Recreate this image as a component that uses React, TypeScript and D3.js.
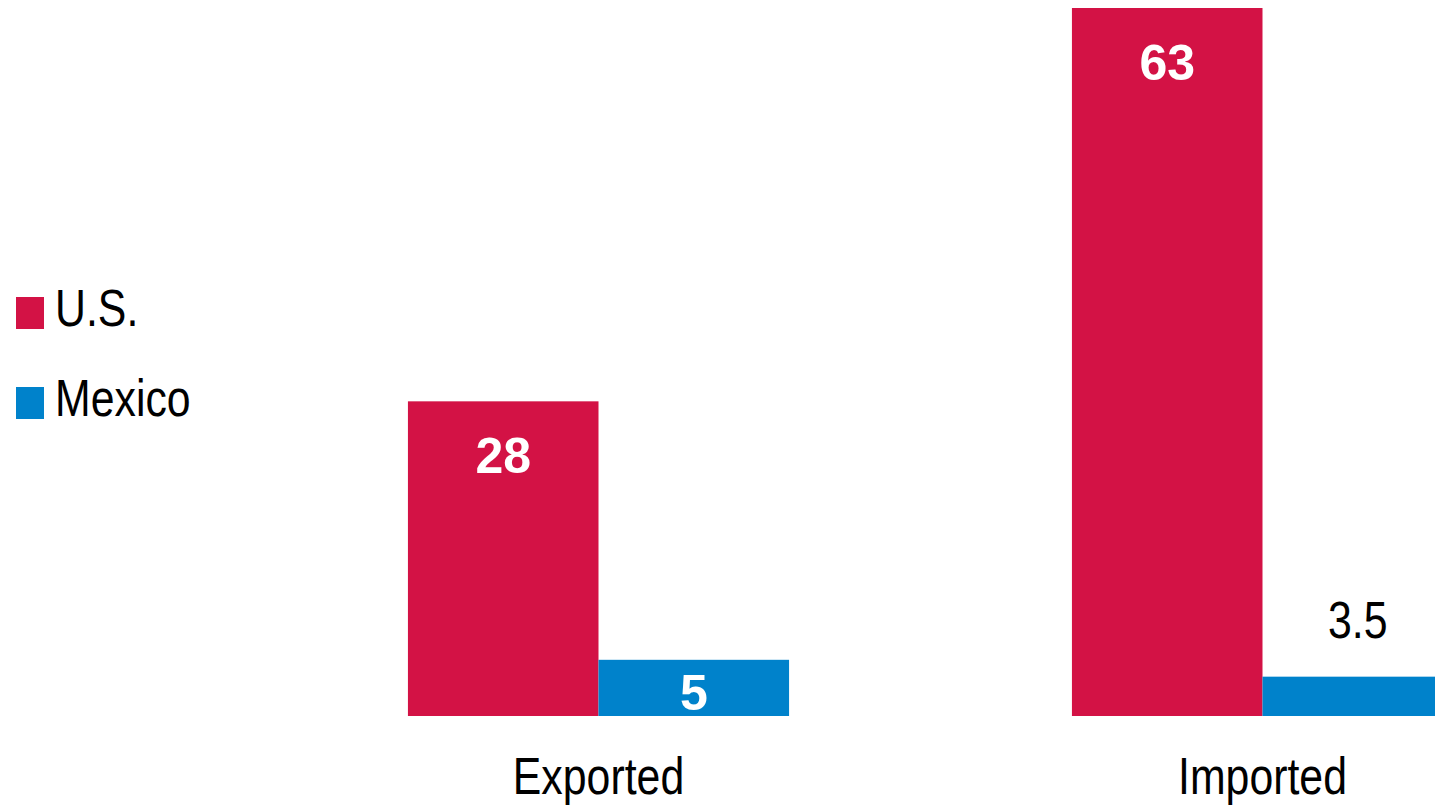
import React from "react";
import * as d3 from "d3";

const categories = ["Exported", "Imported"];
const seriesNames = ["U.S.", "Mexico"];
const usValues = [28, 63];
const mexicoValues = [5, 3.5];
const valueLabels = [["28", "5"], ["63", "3.5"]];

const W = 1435;
const H = 806;
const COLORS: Record<string, string> = { "U.S.": "#D31245", Mexico: "#0082CB" };
const FONT = "'Liberation Sans', Arial, Helvetica, sans-serif";
const SX = 0.84; // horizontal compression of regular text

export default function App() {
  const x0 = d3
    .scaleBand<string>()
    .domain(categories)
    .range([266.5, 266.5 + 2 * 664])
    .paddingInner(0.426)
    .paddingOuter(0.213);
  const x1 = d3
    .scaleBand<string>()
    .domain(seriesNames)
    .range([0, x0.bandwidth()])
    .padding(0);
  const y = d3.scaleLinear().domain([0, 63]).range([716, 8]);

  const bars: { cat: string; s: string; v: number; label: string }[] = [];
  categories.forEach((c, i) => {
    bars.push({ cat: c, s: "U.S.", v: usValues[i], label: valueLabels[i][0] });
    bars.push({ cat: c, s: "Mexico", v: mexicoValues[i], label: valueLabels[i][1] });
  });

  const legendY = [297, 387];

  return (
    <svg
      width={W}
      height={H}
      style={{ position: "absolute", left: 0, top: 0, background: "#fff" }}
      fontFamily={FONT}
    >
      {bars.map((b, i) => {
        const bx = (x0(b.cat) as number) + (x1(b.s) as number);
        const bw = x1.bandwidth();
        const top = y(b.v);
        const bottom = y(0);
        const h = bottom - top;
        const cx = bx + bw / 2;
        const inside = h >= 50;
        return (
          <g key={i}>
            <rect x={bx} y={top} width={bw} height={h} fill={COLORS[b.s]} />
            {inside ? (
              <text
                x={cx}
                y={Math.min(top + 72, bottom - 6)}
                textAnchor="middle"
                fontSize={50}
                fontWeight="bold"
                fill="#fff"
              >
                {b.label}
              </text>
            ) : (
              <g transform={`translate(${cx},${top - 39}) scale(${SX},1)`}>
                <text x={0} y={0} textAnchor="middle" fontSize={51} fill="#000">
                  {b.label}
                </text>
              </g>
            )}
          </g>
        );
      })}
      {categories.map((c) => (
        <g
          key={c}
          transform={`translate(${(x0(c) as number) + x0.bandwidth() / 2},794) scale(${SX},1)`}
        >
          <text x={0} y={0} textAnchor="middle" fontSize={51} fill="#000">
            {c}
          </text>
        </g>
      ))}
      {seriesNames.map((s, i) => (
        <g key={s}>
          <rect x={16} y={legendY[i]} width={28} height={32} fill={COLORS[s]} />
          <g transform={`translate(55,${legendY[i] + 29}) scale(${SX},1)`}>
            <text x={0} y={0} fontSize={51} fill="#000">
              {s}
            </text>
          </g>
        </g>
      ))}
    </svg>
  );
}
